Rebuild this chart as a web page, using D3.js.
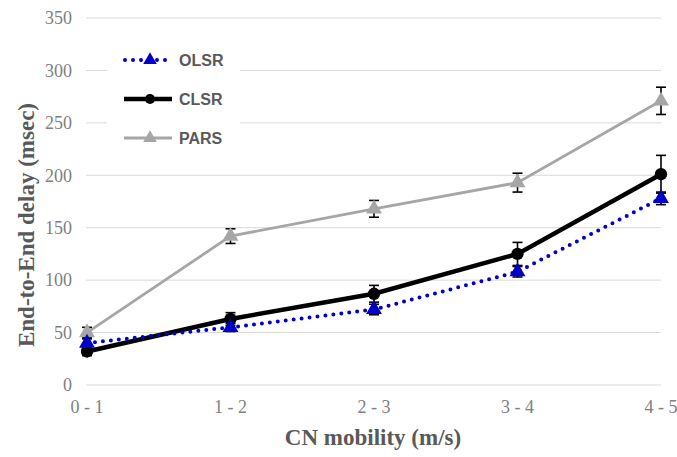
<!DOCTYPE html>
<html>
<head>
<meta charset="utf-8">
<script src="https://cdn.jsdelivr.net/npm/d3@7"></script>
<style>
  body { margin: 0; background: #fff; }
  svg { display: block; }
</style>
</head>
<body>
<div id="chart"></div>
<script>
const categories = ['0 - 1', '1 - 2', '2 - 3', '3 - 4', '4 - 5']
const yTicks = [0, 50, 100, 150, 200, 250, 300, 350]

const olsr    = [40, 55, 72, 108, 178]
const olsrErr = [4, 4, 5, 5, 6]
const clsr    = [32, 63, 87, 125, 201]
const clsrErr = [4, 6, 8, 11, 18]
const pars    = [50, 142, 168, 193, 271]
const parsErr = [5, 7, 8, 9, 13]

const series = [
  { name: 'OLSR', values: olsr, err: olsrErr },
  { name: 'CLSR', values: clsr, err: clsrErr },
  { name: 'PARS', values: pars, err: parsErr }
]

const style = {
  OLSR: { color: '#0000c8', width: 4, dash: '0 8', marker: 'tri' },
  CLSR: { color: '#000000', width: 4.5, dash: null, marker: 'circle' },
  PARS: { color: '#a6a6a6', width: 2.8, dash: null, marker: 'tri' }
}

const W = 677, H = 457
const svg = d3.select('#chart').append('svg')
  .attr('width', W).attr('height', H)

const x = d3.scalePoint().domain(categories).range([87, 661])
const y = d3.scaleLinear().domain([0, 350]).range([385, 18])

// gridlines
svg.append('g')
  .selectAll('line')
  .data(yTicks)
  .join('line')
    .attr('x1', 86).attr('x2', 661)
    .attr('y1', d => y(d)).attr('y2', d => y(d))
    .attr('stroke', '#d9d9d9').attr('stroke-width', 1)

// y tick labels
svg.append('g')
  .selectAll('text')
  .data(yTicks)
  .join('text')
    .attr('x', 72).attr('y', d => y(d))
    .attr('dy', '0.35em')
    .attr('text-anchor', 'end')
    .attr('font-family', '"Liberation Serif", serif')
    .attr('font-size', 18)
    .attr('fill', '#808080')
    .text(d => d)

// x tick labels
svg.append('g')
  .selectAll('text')
  .data(categories)
  .join('text')
    .attr('x', d => x(d)).attr('y', 407)
    .attr('dy', '0.35em')
    .attr('text-anchor', 'middle')
    .attr('font-family', '"Liberation Serif", serif')
    .attr('font-size', 18)
    .attr('fill', '#808080')
    .text(d => d)

// axis titles
svg.append('text')
  .attr('x', 373).attr('y', 445)
  .attr('text-anchor', 'middle')
  .attr('font-family', '"Liberation Serif", serif')
  .attr('font-weight', 'bold')
  .attr('font-size', 23)
  .attr('fill', '#595959')
  .text('CN mobility (m/s)')

svg.append('text')
  .attr('transform', 'translate(34,225) rotate(-90)')
  .attr('text-anchor', 'middle')
  .attr('font-family', '"Liberation Serif", serif')
  .attr('font-weight', 'bold')
  .attr('font-size', 23)
  .attr('fill', '#595959')
  .text('End-to-End delay (msec)')

// legend box (covers gridlines)
svg.append('rect')
  .attr('x', 107).attr('y', 40).attr('width', 133).attr('height', 116)
  .attr('fill', '#fff')

const tri = d3.symbol().type(d3.symbolTriangle)
const circ = d3.symbol().type(d3.symbolCircle)

function marker (g, name, size) {
  const s = style[name]
  const gen = s.marker === 'tri' ? tri : circ
  return g.append('path')
    .attr('d', gen.size(size)())
    .attr('fill', s.color)
}

const line = d3.line()
  .x((d, i) => x(categories[i]))
  .y(d => y(d))

// draw order: PARS, CLSR, OLSR
const order = ['PARS', 'CLSR', 'OLSR']
order.forEach(name => {
  const sr = series.find(d => d.name === name)
  const s = style[name]
  const g = svg.append('g')

  g.append('path')
    .datum(sr.values)
    .attr('d', line)
    .attr('fill', 'none')
    .attr('stroke', s.color)
    .attr('stroke-width', s.width)
    .attr('stroke-linecap', s.dash ? 'round' : 'butt')
    .attr('stroke-dasharray', s.dash)

  sr.values.forEach((v, i) => {
    const cx = x(categories[i])
    const e = g.append('g').attr('stroke', '#000').attr('stroke-width', 1.6)
    e.append('line').attr('x1', cx).attr('x2', cx)
      .attr('y1', y(v + sr.err[i])).attr('y2', y(v - sr.err[i]))
    e.append('line').attr('x1', cx - 5).attr('x2', cx + 5)
      .attr('y1', y(v + sr.err[i])).attr('y2', y(v + sr.err[i]))
    e.append('line').attr('x1', cx - 5).attr('x2', cx + 5)
      .attr('y1', y(v - sr.err[i])).attr('y2', y(v - sr.err[i]))
    marker(g, name, s.marker === 'tri' ? 110 : 120)
      .attr('transform', `translate(${cx},${y(v)})`)
  })
})

// legend
const legY = { OLSR: 60, CLSR: 99, PARS: 138 }
series.forEach(sr => {
  const s = style[sr.name]
  const g = svg.append('g').attr('transform', `translate(0,${legY[sr.name]})`)
  g.append('line')
    .attr('x1', s.dash ? 125 : 124).attr('x2', 172)
    .attr('stroke', s.color)
    .attr('stroke-width', s.width)
    .attr('stroke-linecap', s.dash ? 'round' : 'butt')
    .attr('stroke-dasharray', s.dash)
  marker(g, sr.name, 80)
    .attr('transform', 'translate(150,0)')
  g.append('text')
    .attr('x', 179).attr('dy', '0.35em')
    .attr('font-family', '"Liberation Sans", Arial, sans-serif')
    .attr('font-weight', 'bold')
    .attr('font-size', 16)
    .attr('fill', '#595959')
    .text(sr.name)
})
</script>
</body>
</html>
